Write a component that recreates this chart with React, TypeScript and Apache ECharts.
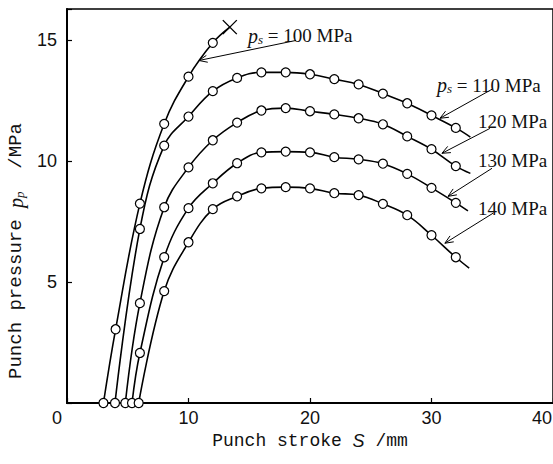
import React, { useEffect, useRef } from 'react';
import * as echarts from 'echarts';

// ---- data (Punch stroke S in mm, Punch pressure p_p in MPa) ----
const xTickValues = [0, 10, 20, 30, 40];
const yTickValues = [5, 10, 15];

const seriesNames = ['100 MPa', '110 MPa', '120 MPa', '130 MPa', '140 MPa'];

const s100 = [[3.0, 0], [4.0, 3.05], [6.0, 8.25], [8.0, 11.55], [10.0, 13.5], [12.0, 14.9]];
const s100End = [13.4, 15.55];

const s110 = [[3.95, 0], [6, 7.2], [8, 10.65], [10, 11.85], [12, 12.9], [14, 13.45], [16, 13.68], [18, 13.68], [20, 13.6], [22, 13.4], [24, 13.18], [26, 12.8], [28, 12.4], [30, 11.9], [32, 11.38]];
const s110End = [33.2, 11.0];

const s120 = [[4.8, 0], [6, 4.13], [8, 8.1], [10, 9.75], [12, 10.87], [14, 11.6], [16, 12.1], [18, 12.2], [20, 12.07], [22, 11.94], [24, 11.78], [26, 11.53], [28, 11.03], [30, 10.5], [32, 9.8]];
const s120End = [33.2, 9.5];

const s130 = [[5.35, 0], [6, 2.07], [8, 6.03], [10, 8.06], [12, 9.09], [14, 9.92], [16, 10.37], [18, 10.4], [20, 10.37], [22, 10.17], [24, 10.08], [26, 9.9], [28, 9.48], [30, 8.9], [32, 8.28]];
const s130End = [33.0, 7.95];

const s140 = [[5.9, 0], [8, 4.63], [10, 6.65], [12, 8.02], [14, 8.55], [16, 8.88], [18, 8.93], [20, 8.88], [22, 8.68], [24, 8.6], [26, 8.24], [28, 7.77], [30, 6.94], [32, 6.03]];
const s140End = [33.1, 5.58];

// annotation anchors in data coordinates
const annTextAt = [[14.9, 15.2], [30.45, 13.14], [33.83, 11.65], [33.83, 10.04], [33.83, 8.06]];
const annArrowFrom = [[18.85, 15.0], [34.98, 12.98], [34.81, 11.36], [34.98, 9.71], [35.06, 7.85]];
const annArrowTo = [[10.86, 14.17], [30.7, 11.78], [30.86, 10.33], [31.36, 8.55], [31.1, 6.61]];
const annHasPs = [true, true, false, false, false];

const MONO = '"Liberation Mono", "DejaVu Sans Mono", monospace';
const SERIF = '"Liberation Serif", "DejaVu Serif", serif';
const SANS = '"Liberation Sans", Arial, sans-serif';

function buildSeries(name: string, pts: number[][], end: number[], isCross: boolean) {
  const data: any[] = pts.map((p) => ({ value: p }));
  if (isCross) {
    data.push({
      value: end,
      symbol: 'path://M0,0L10,10M10,0L0,10',
      symbolSize: 14,
      itemStyle: { color: 'rgba(0,0,0,0)', borderColor: '#000', borderWidth: 1.4 },
    });
  } else {
    data.push({ value: end, symbol: 'none' });
  }
  return {
    type: 'line',
    name,
    data,
    smooth: 0.4,
    symbol: 'circle',
    symbolSize: 9,
    lineStyle: { color: '#000', width: 1.6 },
    itemStyle: { color: '#fff', borderColor: '#000', borderWidth: 1.2 },
    z: 3,
  };
}

export default function App() {
  const ref = useRef<HTMLDivElement>(null);
  useEffect(() => {
    document.body.style.margin = '0';
    const chart = echarts.init(ref.current!, null, { renderer: 'svg' });
    const option: any = {
      animation: false,
      backgroundColor: '#fff',
      grid: {
        left: 67,
        right: 0,
        top: 9,
        bottom: 61,
        show: true,
        borderColor: '#000',
        borderWidth: 1.5,
        containLabel: false,
        outerBoundsMode: 'none',
      },
      xAxis: {
        type: 'value',
        min: 0,
        max: 40,
        interval: 10,
        name: '{m|Punch stroke }{i|S}{m| /mm}',
        nameLocation: 'middle',
        nameGap: 27,
        nameTextStyle: {
          rich: {
            m: { fontFamily: MONO, fontSize: 18, color: '#111' },
            i: { fontFamily: SANS, fontStyle: 'italic', fontSize: 18, color: '#111' },
          },
        },
        axisLine: { show: true, lineStyle: { color: '#000', width: 2 } },
        axisTick: { show: true, inside: true, length: 5, lineStyle: { color: '#000', width: 1.2 } },
        splitLine: { show: false },
        axisLabel: {
          margin: 6,
          fontFamily: SANS,
          fontSize: 18,
          color: '#111',
          hideOverlap: false,
          formatter: (v: number) => {
            if (!xTickValues.includes(v)) return '';
            if (v === 0) return '{z|0}';
            if (v === 40) return '{e|40}';
            return String(v);
          },
          rich: {
            z: { fontFamily: SANS, fontSize: 18, color: '#111', padding: [0, 20, 0, 0] },
            e: { fontFamily: SANS, fontSize: 18, color: '#111', padding: [0, 22, 0, 0] },
          },
        },
      },
      yAxis: {
        type: 'value',
        min: 0,
        max: 16.3,
        interval: 5,
        name: '{m|Punch pressure }{i|p}{sub|p}{m|  /MPa}',
        nameLocation: 'middle',
        nameRotate: 90,
        nameGap: 35,
        nameTextStyle: {
          padding: [0, 90, 0, 0],
          rich: {
            m: { fontFamily: MONO, fontSize: 19, color: '#111', lineHeight: 20, verticalAlign: 'middle' },
            i: { fontFamily: SERIF, fontStyle: 'italic', fontSize: 20, color: '#111', lineHeight: 20, verticalAlign: 'middle' },
            sub: { fontFamily: SERIF, fontStyle: 'italic', fontSize: 13, color: '#111', lineHeight: 12, verticalAlign: 'bottom' },
          },
        },
        axisLine: { show: true, lineStyle: { color: '#000', width: 2 } },
        axisTick: { show: true, inside: true, length: 5, lineStyle: { color: '#000', width: 1.2 } },
        splitLine: { show: false },
        axisLabel: {
          margin: 10,
          fontFamily: SANS,
          fontSize: 18,
          color: '#111',
          formatter: (v: number) => (yTickValues.includes(v) ? String(v) : ''),
        },
      },
      series: [
        buildSeries(seriesNames[0], s100, s100End, true),
        buildSeries(seriesNames[1], s110, s110End, false),
        buildSeries(seriesNames[2], s120, s120End, false),
        buildSeries(seriesNames[3], s130, s130End, false),
        buildSeries(seriesNames[4], s140, s140End, false),
      ],
    };
    chart.setOption(option);

    const P = (p: number[]) => chart.convertToPixel({ gridIndex: 0 }, p) as number[];
    const elements: any[] = [];
    for (let k = 0; k < seriesNames.length; k++) {
      const [tx, ty] = P(annTextAt[k]);
      const text = annHasPs[k]
        ? `{i|p}{sub|s}{n| = ${seriesNames[k]}}`
        : `{n|${seriesNames[k]}}`;
      elements.push({
        type: 'text',
        x: tx,
        y: ty,
        z: 10,
        style: {
          text,
          align: 'left',
          verticalAlign: 'middle',
          rich: {
            n: { fontFamily: SERIF, fontSize: 19, fill: '#111', lineHeight: 20, verticalAlign: 'middle' },
            i: { fontFamily: SERIF, fontStyle: 'italic', fontSize: 20, fill: '#111', lineHeight: 20, verticalAlign: 'middle' },
            sub: { fontFamily: SERIF, fontStyle: 'italic', fontSize: 13, fill: '#111', lineHeight: 12, verticalAlign: 'bottom' },
          },
        },
      });
      const [x1, y1] = P(annArrowFrom[k]);
      const [x2, y2] = P(annArrowTo[k]);
      const ang = Math.atan2(y1 - y2, x1 - x2);
      const L = 9;
      const a = 0.4;
      const w1 = [x2 + L * Math.cos(ang + a), y2 + L * Math.sin(ang + a)];
      const w2 = [x2 + L * Math.cos(ang - a), y2 + L * Math.sin(ang - a)];
      elements.push({
        type: 'line',
        z: 10,
        shape: { x1, y1, x2, y2 },
        style: { stroke: '#000', lineWidth: 1 },
      });
      elements.push({
        type: 'polyline',
        z: 10,
        shape: { points: [w1, [x2, y2], w2] },
        style: { stroke: '#000', lineWidth: 1, fill: 'none' },
      });
    }
    chart.setOption({ graphic: { elements } });

    return () => chart.dispose();
  }, []);
  return (
    <div
      ref={ref}
      style={{ position: 'fixed', left: 0, top: 0, width: 553, height: 464, background: '#fff' }}
    />
  );
}
